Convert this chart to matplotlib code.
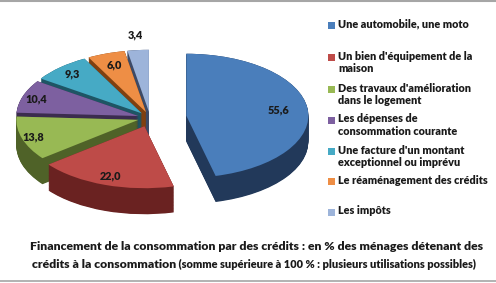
import matplotlib
matplotlib.use('Agg')
import matplotlib.pyplot as plt
from matplotlib.patches import Rectangle
from matplotlib.lines import Line2D
import numpy as np

categories = ["Une automobile, une moto",
              "Un bien d'équipement de la\nmaison",
              "Des travaux d'amélioration\ndans le logement",
              "Les dépenses de\nconsommation courante",
              "Une facture d'un montant\nexceptionnel ou imprévu",
              "Le réaménagement des crédits",
              "Les impôts"]
values = [55.6, 22.0, 13.8, 10.4, 9.3, 6.0, 3.4]
value_labels = ["55,6", "22,0", "13,8", "10,4", "9,3", "6,0", "3,4"]
title_line1 = "Financement de la consommation par des crédits : en % des ménages détenant des"
title_line2a = "crédits à la consommation"
title_line2b = " (somme supérieure à 100 % : plusieurs utilisations possibles)"

top_colors = ["#4A7EBB", "#BE4B48", "#98B954", "#7D60A0", "#46AAC5", "#EE8E45", "#9DB4DA"]
side_colors = ["#22395A", "#6A2221", "#4F6228", "#3B2C4E", "#1E5564", "#7F4010", "#3D4A66"]
explode = [0.30, 0.14, 0.10, 0.10, 0.10, 0.10, 0.10]
label_r = [0.76, 0.85, 0.9, 0.88, 0.85, 0.8, 1.25]

FONT = "Lato"
WEIGHT = "heavy"
TXT = "#1a1a1a"
fig = plt.figure(figsize=(4.96, 2.83), dpi=100)
renderer = fig.canvas.get_renderer()


def fit(t, target_px):
    w = t.get_window_extent(renderer).width
    t.set_fontsize(t.get_fontsize() * target_px / w)
    return t.get_fontsize()


ax = fig.add_axes([0, 0, 1, 1])
depth = 0.42
for d in np.linspace(depth, 0, 45):
    ax.pie(values, explode=explode, colors=side_colors, startangle=90,
           counterclock=False, center=(0, -d), wedgeprops=dict(linewidth=0))
wedges, _ = ax.pie(values, explode=explode, colors=top_colors, startangle=90,
                   counterclock=False, center=(0, 0), wedgeprops=dict(linewidth=0))
ax.set_aspect('auto')
ax.set_xlim(-150 / 122, 346 / 122)
ax.set_ylim(-165 / 62, 118 / 62)
ax.axis('off')
lab_texts = []
for w, lab, r in zip(wedges, value_labels, label_r):
    ang = np.deg2rad((w.theta1 + w.theta2) / 2)
    cx, cy = w.center
    lab_texts.append(ax.text(cx + r * np.cos(ang), cy + r * np.sin(ang), lab,
                             ha='center', va='center', fontsize=8,
                             fontweight=WEIGHT, color=TXT, family=FONT))
fs = fit(lab_texts[1], 21.5)
for t in lab_texts:
    t.set_fontsize(fs)

ax2 = fig.add_axes([0, 0, 1, 1])
ax2.set_xlim(0, 496)
ax2.set_ylim(283, 0)
ax2.axis('off')
leg_y = [25, 57, 89, 120, 151, 181, 212]
leg_texts = []
for cat, col, y in zip(categories, top_colors, leg_y):
    ax2.add_patch(Rectangle((327.5, y - 3.5), 7, 7, color=col, lw=0))
    leg_texts.append(ax2.text(338, y - 6.5, cat, ha='left', va='top', fontsize=7,
                              fontweight=WEIGHT, color=TXT, family=FONT,
                              linespacing=1.2))
fs = fit(leg_texts[5], 150)
for t in leg_texts:
    t.set_fontsize(fs)

t0 = ax2.text(256.5, 246, title_line1, ha='center', va='center', fontsize=8.2,
              fontweight=WEIGHT, color=TXT, family=FONT)
fs_title = fit(t0, 453)
t1 = ax2.text(32, 264, title_line2a, ha='left', va='center', fontsize=fs_title,
              fontweight=WEIGHT, color=TXT, family=FONT)
w1 = t1.get_window_extent(renderer).width
t2 = ax2.annotate(title_line2b, xy=(1, 0), xycoords=t1, ha='left', va='bottom',
                  fontsize=6.8, fontweight=WEIGHT, color=TXT, family=FONT)
fit(t2, 480 - 32 - w1)

fig.add_artist(Line2D([0, 1], [1 - 1 / 283, 1 - 1 / 283], color='#a6a6a6', lw=1.5))
fig.add_artist(Line2D([0, 1], [2.5 / 283, 2.5 / 283], color='#a6a6a6', lw=1.2))
fig.savefig('out.png', dpi=100)
